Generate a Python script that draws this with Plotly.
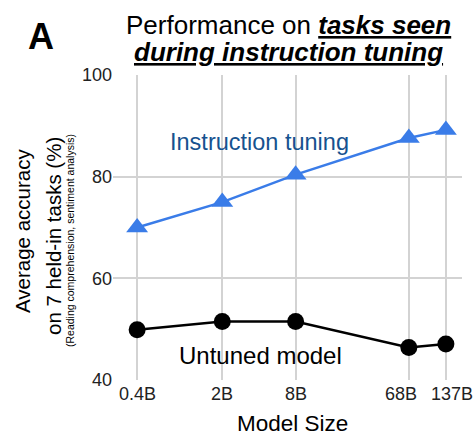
import math
import plotly.graph_objects as go

model_sizes = [0.4, 2, 8, 68, 137]
tick_labels = ["0.4B", "2B", "8B", "68B", "137B"]
instruction_tuning = [70.0, 75.0, 80.4, 87.6, 89.2]
untuned_model = [49.9, 51.5, 51.5, 46.4, 47.1]

FONT = "Liberation Sans, Arial, Helvetica, sans-serif"
BLUE = "#3a7ce8"

fig = go.Figure()
fig.add_trace(go.Scatter(
    x=model_sizes, y=instruction_tuning, mode="lines+markers",
    line=dict(color=BLUE, width=2.5),
    marker=dict(symbol="triangle-up", size=19, color=BLUE),
    cliponaxis=False, showlegend=False))
fig.add_trace(go.Scatter(
    x=model_sizes, y=untuned_model, mode="lines+markers",
    line=dict(color="black", width=2.5),
    marker=dict(symbol="circle", size=17, color="black"),
    cliponaxis=False, showlegend=False))

fig.update_layout(
    width=473, height=435,
    margin=dict(l=113, r=11, t=75, b=55),
    paper_bgcolor="white", plot_bgcolor="white",
    font=dict(family=FONT, color="#222"),
    xaxis=dict(type="log", range=[-0.596, 2.269],
               tickvals=model_sizes, ticktext=tick_labels, tickangle=0,
               showticklabels=False,
               showgrid=True, gridcolor="#d3d3d3", gridwidth=1.5,
               showline=False, zeroline=False, ticks=""),
    yaxis=dict(range=[40, 100], tickvals=[40, 60, 80, 100],
               showgrid=True, gridcolor="#d3d3d3", gridwidth=1.5,
               showline=False, zeroline=False, ticks="",
               tickfont=dict(size=18, color="#222")),
)

# x tick labels (68B and 137B are nudged as in the original figure)
label_shift = [0, 0, 0, -8, 6]
for v, lab, dx in zip(model_sizes, tick_labels, label_shift):
    fig.add_annotation(text=lab, x=math.log10(v), xref="x", y=0, yref="paper",
                       yanchor="top", xanchor="center", yshift=-2, xshift=dx,
                       showarrow=False, font=dict(size=18, color="#222"))

annotations = [
    dict(text="<b>A</b>", x=41, y=36, font=dict(size=36, color="black")),
    dict(text="Performance on <b><i><u>tasks seen</u></i></b>",
         x=288, y=25, font=dict(size=26, color="black")),
    dict(text="<b><i><u>during instruction tuning</u></i></b>",
         x=288, y=52, font=dict(size=26, color="black")),
    dict(text="Average accuracy", x=22, y=231, textangle=-90, font=dict(size=20.5, color="black")),
    dict(text="on 7 held-in tasks (%)", x=53, y=236, textangle=-90, font=dict(size=20.5, color="black")),
    dict(text="(Reading comprehension, sentiment analysis)", x=70, y=241, textangle=-90,
         font=dict(size=10.5, color="black")),
    dict(text="Model Size", x=292, y=423, font=dict(size=22.5, color="black")),
    dict(text="Instruction tuning", x=259, y=142, font=dict(size=23.5, color="#16528f")),
    dict(text="Untuned model", x=260, y=355, font=dict(size=24, color="black")),
]
W, H = 473 - 113 - 11, 435 - 75 - 55
for a in annotations:
    fig.add_annotation(text=a["text"], x=(a["x"] - 113) / W, y=1 - (a["y"] - 75) / H,
                       xref="paper", yref="paper", showarrow=False,
                       xanchor="center", yanchor="middle",
                       textangle=a.get("textangle", 0), font=a["font"])

fig.write_html("out.html")
